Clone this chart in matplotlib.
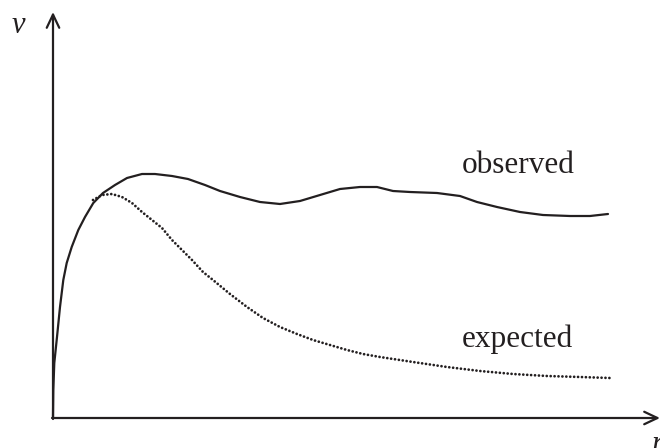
import matplotlib
matplotlib.use('Agg')
import matplotlib.pyplot as plt

plt.rcParams['font.family'] = ['Liberation Serif', 'DejaVu Serif']

# rotation curve, arbitrary units
r_obs = [0, 0.3, 1.3, 4, 7, 10.3, 13.7, 18.7, 25.3, 32, 40.3, 50, 62, 74, 89, 102, 119, 135,
         152, 167, 187, 207, 227, 247, 267, 287, 307, 324, 340, 357, 384, 407, 424, 444,
         467, 490, 517, 537, 555]
v_obs = [1, 28, 55, 81, 111, 138, 155, 171, 188, 201, 215, 225, 233, 240, 244, 244, 242, 239,
         233, 227, 221, 216, 214, 217, 223, 229, 231, 231, 227, 226, 225, 222, 216, 211,
         206, 203, 202, 202, 204]

r_exp = [40, 49, 59, 69, 79, 89, 99, 109, 119, 129, 139, 150, 160, 177, 194, 210, 227, 244,
         260, 277, 294, 310, 327, 360, 394, 427, 460, 494, 527, 557]
v_exp = [218, 223, 224, 221, 215, 206, 198, 190, 178, 168, 158, 146, 138, 124, 111, 100, 91, 84,
         78, 73, 68, 64, 61, 56, 51, 47, 44, 42, 41, 40]

labels = ['observed', 'expected']

fig = plt.figure(figsize=(6.6, 4.48), dpi=100)
ax = fig.add_axes([0, 0, 1, 1])
ax.set_xlim(-53, 607)
ax.set_ylim(-30, 418)
ax.axis('off')

ink = '#231f20'
ax.plot(r_obs, v_obs, color=ink, lw=1.6, solid_capstyle='round', solid_joinstyle='round')
ax.plot(r_exp, v_exp, color=ink, lw=2.0, linestyle=(0, (0.01, 1.4)),
        dash_capstyle='round')

# axes with open arrow heads
arr = dict(arrowstyle='->,head_length=0.95,head_width=0.45', color=ink, lw=1.6,
           shrinkA=0, shrinkB=0)
ax.annotate('', xy=(607, 0), xytext=(-1, 0), arrowprops=arr)
ax.annotate('', xy=(0, 406), xytext=(0, -1), arrowprops=arr)

ax.text(409, 245, labels[0], fontsize=22.5, color=ink, va='baseline')
ax.text(409, 71, labels[1], fontsize=22.5, color=ink, va='baseline')
ax.text(-41, 385, 'v', fontsize=22, style='italic', color=ink, va='baseline')
ax.text(599, -34, 'r', fontsize=22, style='italic', color=ink, va='baseline')

fig.savefig('out.png', dpi=100)
